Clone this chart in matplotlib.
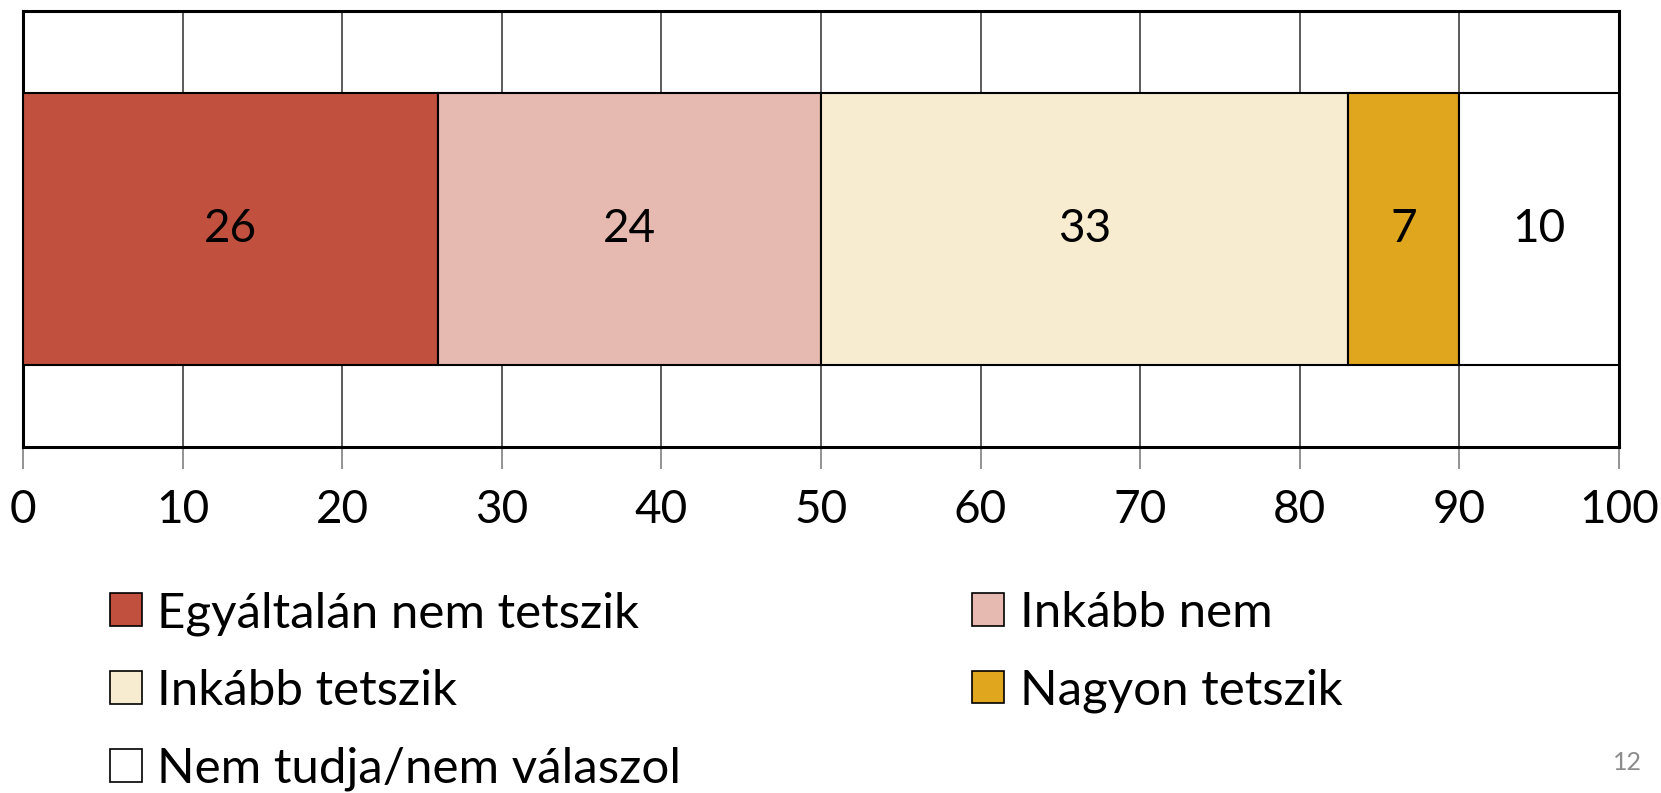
import matplotlib
matplotlib.use("Agg")
import matplotlib.pyplot as plt
from matplotlib.patches import Patch

categories = ["Egyáltalán nem tetszik", "Inkább nem", "Inkább tetszik", "Nagyon tetszik", "Nem tudja/nem válaszol"]
values = [26, 24, 33, 7, 10]
colors = ["#C1503F", "#E6B9B1", "#F8ECD0", "#DFA61E", "#FFFFFF"]
xticks = [0, 10, 20, 30, 40, 50, 60, 70, 80, 90, 100]

plt.rcParams['font.family'] = ['Lato', 'DejaVu Sans']

fig = plt.figure(figsize=(16.61, 7.93), dpi=100)
ax = fig.add_axes([23/1661, 1-447/793, (1619-23)/1661, (447-11)/793])

left = 0
for cat, v, c in zip(categories, values, colors):
    ax.barh(0, v, left=left, height=0.626, color=c, edgecolor="black", linewidth=1.5, zorder=3, label=cat)
    ax.text(left + v/2, 0, str(v), ha="center", va="center", fontsize=33, zorder=4)
    left += v

ax.set_xlim(0, 100)
ax.set_ylim(-0.5, 0.5)
ax.set_xticks(xticks)
ax.set_xticklabels([str(t) for t in xticks], fontsize=33)
ax.set_yticks([])
ax.grid(axis="x", color="#404040", linewidth=1.2, zorder=0)
ax.tick_params(axis="x", length=16, width=1.2, color="#808080", pad=14)
for s in ax.spines.values():
    s.set_linewidth(2.2)
    s.set_color("black")

order = [0, 2, 4, 1, 3]
handles = [Patch(facecolor=colors[i], edgecolor="black", linewidth=1.2) for i in order]
labels = [categories[i] for i in order]
fig.legend(handles, labels, ncol=2, loc="upper left", bbox_to_anchor=(110/1661, 1-591/793),
           frameon=False, fontsize=35.5, handlelength=0.64, handleheight=0.64, handletextpad=0.32,
           columnspacing=5.9, labelspacing=0.68, borderaxespad=0, borderpad=0)

fig.text(1627/1661, 1-763/793, "12", fontsize=18, color="#8C8C8C", ha="center", va="center")

fig.savefig("out.png", dpi=100)
